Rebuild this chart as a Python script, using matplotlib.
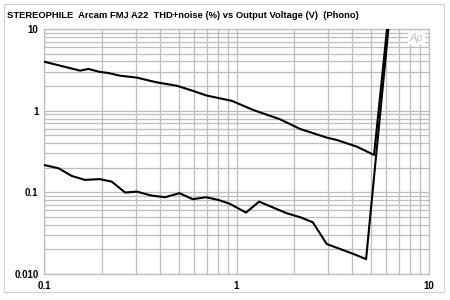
import matplotlib.pyplot as plt
from matplotlib.patches import Rectangle
from matplotlib.ticker import FixedLocator, FixedFormatter, NullFormatter

# Upper trace (THD+N %, vs output voltage V)
upper_v = [0.1, 0.154, 0.17, 0.195, 0.216, 0.248, 0.303, 0.385, 0.489, 0.597, 0.70,
           0.944, 1.22, 1.68, 2.14, 2.94, 3.31, 4.21, 5.18, 6.05]
upper_thd = [3.98, 3.09, 3.24, 2.98, 2.89, 2.68, 2.54, 2.22, 2.02, 1.74, 1.53,
             1.32, 1.02, 0.785, 0.597, 0.468, 0.438, 0.363, 0.287, 10.0]

# Lower trace
lower_v = [0.1, 0.119, 0.139, 0.163, 0.195, 0.225, 0.264, 0.303, 0.362, 0.425, 0.505,
           0.592, 0.695, 0.805, 0.925, 1.12, 1.31, 1.82, 2.14, 2.49, 2.94, 4.05,
           4.71, 6.15]
lower_thd = [0.216, 0.197, 0.159, 0.142, 0.145, 0.135, 0.0993, 0.102, 0.0912, 0.0871, 0.0976,
             0.0824, 0.0871, 0.0807, 0.0722, 0.0565, 0.0769, 0.0555, 0.0496, 0.043, 0.0233, 0.0176,
             0.0152, 10.0]

x_ticks = [0.1, 1, 10]
x_labels = ["0.1", "1", "10"]
y_ticks = [0.01, 0.1, 1, 10]
y_labels = ["0.010", "0.1", "1", "10"]

title = "STEREOPHILE  Arcam FMJ A22  THD+noise (%) vs Output Voltage (V)  (Phono)"

plt.rcParams["font.family"] = ["Liberation Sans", "DejaVu Sans"]

fig = plt.figure(figsize=(4.5, 3), dpi=100)
ax = fig.add_axes([0.0978, 0.0867, 0.8556, 0.8167])

grid_col = "#bdbdbd"

ax.plot(upper_v, upper_thd, color="black", lw=1.5, zorder=3)
ax.plot(lower_v, lower_thd, color="black", lw=1.5, zorder=3)

ax.set_xscale("log")
ax.set_yscale("log")
ax.set_xlim(0.1, 10)
ax.set_ylim(0.01, 10)

# minor grid at 2..9 of every decade
x_minor = [m * d for d in (0.1, 1) for m in range(2, 10)]
y_minor = [m * d for d in (0.01, 0.1, 1) for m in range(2, 10)]
ax.xaxis.set_major_locator(FixedLocator(x_ticks))
ax.xaxis.set_major_formatter(FixedFormatter(x_labels))
ax.xaxis.set_minor_locator(FixedLocator(x_minor))
ax.xaxis.set_minor_formatter(NullFormatter())
ax.yaxis.set_major_locator(FixedLocator(y_ticks))
ax.yaxis.set_major_formatter(FixedFormatter(y_labels))
ax.yaxis.set_minor_locator(FixedLocator(y_minor))
ax.yaxis.set_minor_formatter(NullFormatter())

ax.grid(True, which="both", color=grid_col, lw=0.9)
ax.set_axisbelow(True)
ax.tick_params(which="both", length=0)
ax.tick_params(axis="x", pad=5)
ax.tick_params(axis="y", pad=4)
for lab in ax.get_xticklabels() + ax.get_yticklabels():
    lab.set_fontsize(7)
    lab.set_fontweight("bold")
for s in ax.spines.values():
    s.set_color(grid_col)
    s.set_linewidth(0.9)

# Ap logo in the top right corner
ax.text(0.985, 0.985, "Ap", transform=ax.transAxes, ha="right", va="top",
        fontsize=8, style="italic", color="#c8c8c8",
        bbox=dict(facecolor="white", edgecolor="none", pad=1.5), zorder=4)

fig.text(0.016, 0.947, title, fontsize=6.75, fontweight="bold", va="center", ha="left")

# light outer frame
fig.patches.append(Rectangle((0.009, 0.027), 0.978, 0.96, transform=fig.transFigure,
                             fill=False, edgecolor="#d0d0d0", lw=0.8))

plt.savefig("out.png", dpi=100)
plt.close(fig)
